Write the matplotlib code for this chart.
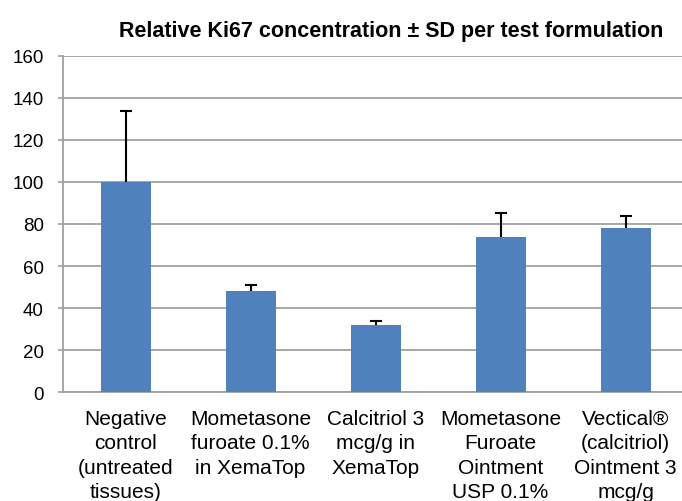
import matplotlib
matplotlib.use("Agg")
import matplotlib.pyplot as plt
import numpy as np

plt.rcParams['font.family'] = ['Liberation Sans', 'DejaVu Sans']

categories = ["Negative\ncontrol\n(untreated\ntissues)",
              "Mometasone\nfuroate 0.1%\nin XemaTop",
              "Calcitriol 3\nmcg/g in\nXemaTop",
              "Mometasone\nFuroate\nOintment\nUSP 0.1%",
              "Vectical®\n(calcitriol)\nOintment 3\nmcg/g"]
ki67 = [100, 48, 32, 74, 78]
sd = [34, 3, 1.6, 11, 6]
title = "Relative Ki67 concentration ± SD per test formulation"

fig = plt.figure(figsize=(6.82, 5.02), dpi=100)
ax = fig.add_axes([0.0924, 0.2171, 0.9164, 0.6694])

x = np.arange(len(categories))
vals = np.array(ki67)
err = np.array(sd)
ax.bar(x, vals, width=0.4, color="#4F81BD", zorder=3)
# upper error bars only (no cap at bar top)
ax.vlines(x, vals, vals + err, color="black", linewidth=1.5, zorder=4)
ax.plot(x, vals + err, linestyle="none", marker="_", markersize=8.4,
        markeredgewidth=1.5, color="black", zorder=4)

ax.set_xlim(-0.5, len(categories) - 0.5)
ax.set_ylim(0, 160)
ax.set_yticks(np.arange(0, 161, 20))
ax.yaxis.grid(True, color="#a0a0a0", linewidth=1.3, zorder=0)
ax.set_axisbelow(True)

ax.set_xticks(x)
ax.set_xticklabels(categories, fontsize=15, linespacing=1.37)
ax.tick_params(axis="x", length=0, pad=12)
ax.tick_params(axis="y", length=3.8, color="#a0a0a0", width=1.2, labelsize=13.5, pad=10)

for side in ["top", "right"]:
    ax.spines[side].set_visible(False)
ax.spines["left"].set_color("#a0a0a0")
ax.spines["left"].set_linewidth(1.3)
ax.spines["bottom"].set_color("#a0a0a0")
ax.spines["bottom"].set_linewidth(1.3)

fig.text(0.574, 1 - 37 / 502, title, ha="center", va="baseline",
         fontsize=15.5, fontweight="bold")

fig.savefig("out.png", dpi=100)
